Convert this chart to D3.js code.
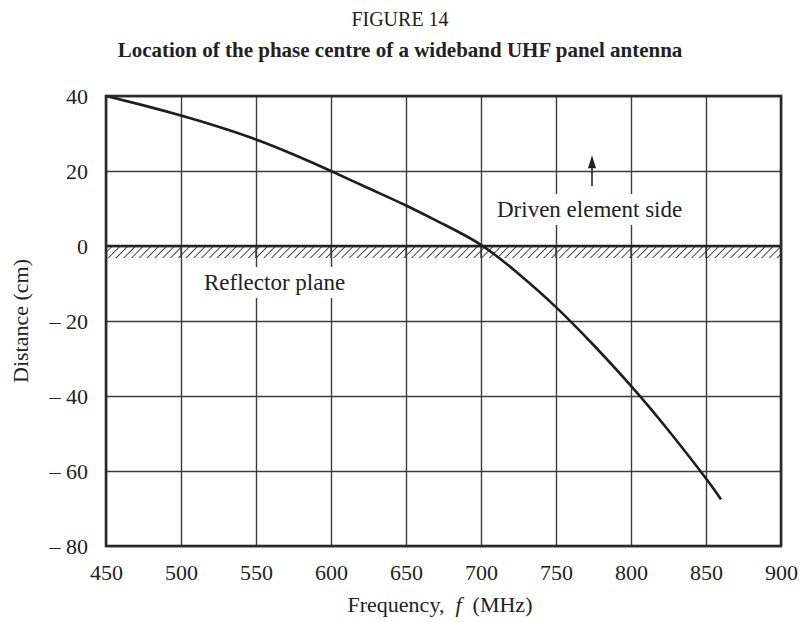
<!DOCTYPE html>
<html>
<head>
<meta charset="utf-8">
<script src="https://cdn.jsdelivr.net/npm/d3@7/dist/d3.min.js"></script>
<style>
  html, body { margin: 0; padding: 0; background: #fff; }
  svg { display: block; }
  text { font-family: "Liberation Serif", "Times New Roman", serif; fill: #222; }
</style>
</head>
<body>
<svg id="chart" width="800" height="622"></svg>
<script>
// Phase-centre location of a wideband UHF panel antenna
const frequency = [450, 475, 500, 525, 550, 575, 600, 625, 650, 675, 700, 725, 750, 775, 800, 825, 850, 860];
const distance  = [40, 37.5, 34.8, 31.8, 28.4, 24.4, 20, 15.4, 10.8, 5.8, 0.3, -7.4, -16.3, -26.4, -37.3, -49.2, -62, -67.6];

const xTicks = [450, 500, 550, 600, 650, 700, 750, 800, 850, 900];
const yTicks = [40, 20, 0, -20, -40, -60, -80];

const arrowFreq = 774;
const arrowFrom = 16;
const arrowTo = 24.2;

const svg = d3.select("#chart");
const pLeft = 106, pRight = 781, pTop = 96, pBottom = 546;

const x = d3.scaleLinear().domain([450, 900]).range([pLeft, pRight]);
const y = d3.scaleLinear().domain([-80, 40]).range([pBottom, pTop]);

const fmt = d => d < 0 ? "\u2013 " + Math.abs(d) : String(d);

// Titles
svg.append("text").attr("x", 400).attr("y", 26).attr("text-anchor", "middle")
  .style("font-size", "20px").text("FIGURE 14");
svg.append("text").attr("x", 400).attr("y", 57).attr("text-anchor", "middle")
  .style("font-size", "21px").style("font-weight", "bold")
  .text("Location of the phase centre of a wideband UHF panel antenna");

// Grid
const grid = svg.append("g");
grid.append("g").attr("transform", `translate(0,${pBottom})`)
  .call(d3.axisBottom(x).tickValues(xTicks).tickSize(-(pBottom - pTop)).tickFormat(""))
  .call(g => g.select(".domain").remove())
  .call(g => g.selectAll(".tick line").attr("stroke", "#3c3c3c").attr("stroke-width", 1.4));
grid.append("g").attr("transform", `translate(${pLeft},0)`)
  .call(d3.axisLeft(y).tickValues(yTicks).tickSize(-(pRight - pLeft)).tickFormat(""))
  .call(g => g.select(".domain").remove())
  .call(g => g.selectAll(".tick line").attr("stroke", "#3c3c3c").attr("stroke-width", 1.4));

// Reflector plane hatching under the zero line
const defs = svg.append("defs");
const pat = defs.append("pattern").attr("id", "hatch").attr("patternUnits", "userSpaceOnUse")
  .attr("width", 5.5).attr("height", 6).attr("patternTransform", "rotate(45)");
pat.append("line").attr("x1", 0).attr("y1", 0).attr("x2", 0).attr("y2", 6)
  .attr("stroke", "#2a2a2a").attr("stroke-width", 1.7);
svg.append("rect").attr("x", pLeft).attr("y", y(0)).attr("width", pRight - pLeft).attr("height", 12)
  .attr("fill", "url(#hatch)");
// vertical grid lines pass over the hatching
svg.append("g").selectAll("line").data(xTicks.slice(1, -1)).join("line")
  .attr("x1", d => x(d)).attr("x2", d => x(d)).attr("y1", y(0)).attr("y2", y(0) + 12)
  .attr("stroke", "#3c3c3c").attr("stroke-width", 1.4);

// Labels inside the plot, with white backing
function boxedLabel(tx, ty, str, padX, padY) {
  const g = svg.append("g");
  const t = g.append("text").attr("x", tx).attr("y", ty).style("font-size", "23px").text(str);
  const b = t.node().getBBox();
  g.insert("rect", "text").attr("x", b.x - padX).attr("y", b.y - padY)
    .attr("width", b.width + 2 * padX).attr("height", b.height + 2 * padY).attr("fill", "#fff");
}
boxedLabel(497, 217, "Driven element side", 4, 3);
boxedLabel(204, 290, "Reflector plane", 4, 3);

// Zero line
svg.append("line").attr("x1", pLeft).attr("x2", pRight).attr("y1", y(0)).attr("y2", y(0))
  .attr("stroke", "#222").attr("stroke-width", 2.6);

// Arrow pointing to the driven element side
svg.append("line").attr("x1", x(arrowFreq)).attr("x2", x(arrowFreq))
  .attr("y1", y(arrowFrom)).attr("y2", y(arrowTo) + 12)
  .attr("stroke", "#222").attr("stroke-width", 1.6);
svg.append("path").attr("d", `M${x(arrowFreq) - 4},${y(arrowTo) + 13} L${x(arrowFreq)},${y(arrowTo)} L${x(arrowFreq) + 4},${y(arrowTo) + 13} Z`)
  .attr("fill", "#222");

// Curve
const line = d3.line().x((d, i) => x(frequency[i])).y(d => y(d)).curve(d3.curveNatural);
svg.append("path").datum(distance).attr("d", line)
  .attr("fill", "none").attr("stroke", "#1e1e1e").attr("stroke-width", 2.6);

// Frame
svg.append("rect").attr("x", pLeft).attr("y", pTop).attr("width", pRight - pLeft).attr("height", pBottom - pTop)
  .attr("fill", "none").attr("stroke", "#2a2a2a").attr("stroke-width", 2.6);

// Tick labels
svg.append("g").attr("transform", `translate(0,${pBottom})`)
  .call(d3.axisBottom(x).tickValues(xTicks).tickSize(0).tickPadding(0).tickFormat(fmt))
  .call(g => g.select(".domain").remove())
  .call(g => g.selectAll("text").attr("dy", null).attr("y", 34).style("font-size", "22px")
    .attr("fill", "#222").style("font-family", '"Liberation Serif", serif'));
svg.append("g").attr("transform", `translate(${pLeft},0)`)
  .call(d3.axisLeft(y).tickValues(yTicks).tickSize(0).tickPadding(18).tickFormat(fmt))
  .call(g => g.select(".domain").remove())
  .call(g => g.selectAll("text").attr("dy", "0.34em").style("font-size", "22px")
    .attr("fill", "#222").style("font-family", '"Liberation Serif", serif'));

// Axis titles
const xt = svg.append("text").attr("x", 440).attr("y", 612).attr("text-anchor", "middle").style("font-size", "22px");
xt.append("tspan").text("Frequency,\u00a0\u00a0");
xt.append("tspan").style("font-style", "italic").text("f");
xt.append("tspan").text("\u00a0\u00a0(MHz)");
svg.append("text").attr("transform", `translate(28,${(pTop + pBottom) / 2}) rotate(-90)`)
  .attr("text-anchor", "middle").style("font-size", "22px").text("Distance (cm)");
</script>
</body>
</html>
